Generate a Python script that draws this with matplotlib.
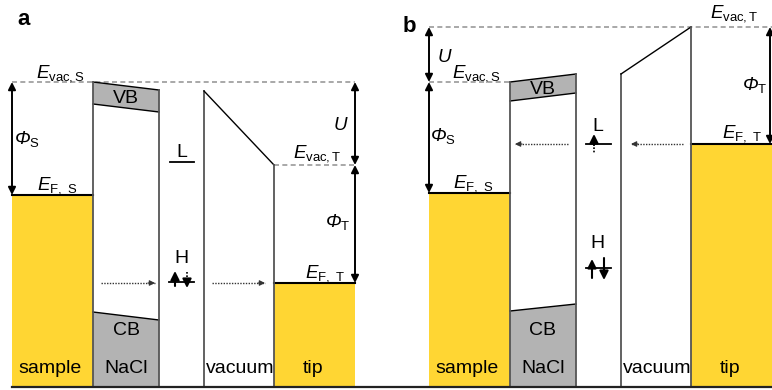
import matplotlib
matplotlib.use('Agg')
import matplotlib.pyplot as plt
from matplotlib.patches import Polygon

plt.rcParams['font.family'] = ['Liberation Sans', 'DejaVu Sans']
plt.rcParams['mathtext.fontset'] = 'custom'
plt.rcParams['mathtext.rm'] = 'Liberation Sans'
plt.rcParams['mathtext.it'] = 'Liberation Sans:italic'
plt.rcParams['mathtext.sf'] = 'Liberation Sans:italic'
plt.rcParams['mathtext.bf'] = 'Liberation Sans:bold'

# ---------------- data (energy axis points down, schematic units) -------------
regions = ['sample', 'NaCl', 'vacuum', 'tip']
panel_labels = ['a', 'b']
base_level = 387

# panel a: zero bias
a_edges = [12, 93, 159, 204, 274, 355]     # sample | NaCl | adsorbate | vacuum | tip
a_vac_s = 82
a_ef_s = 195
a_vb_top = [82, 90]
a_vb_bot = [104, 112]
a_cb_top = [312, 320]
a_barrier = [91, 165]
a_vac_t = 165
a_ef_t = 283
a_L = 162
a_H = 282

# panel b: bias applied
b_edges = [429, 510, 576, 621, 691, 772]
b_vac_s = 82
b_ef_s = 193
b_vb_top = [82, 74]
b_vb_bot = [101, 93]
b_cb_top = [311, 304]
b_barrier = [74, 27]
b_vac_t = 27
b_ef_t = 144
b_L = 144
b_H = 268

YELLOW = '#FFD633'
GRAY = '#B3B3B3'
EDGE = '#555555'
DASH = '#999999'

fig = plt.figure(figsize=(7.72, 3.90), dpi=100)
ax = fig.add_axes([0, 0, 1, 1])
ax.set_xlim(0, 772)
ax.set_ylim(390, 0)
ax.axis('off')

FS = 14
MFS = 13.5


def darrow(x, y0, y1):
    ax.annotate('', xy=(x, y1), xytext=(x, y0),
                arrowprops=dict(arrowstyle='<|-|>', color='k', lw=1.4,
                                mutation_scale=11, shrinkA=0, shrinkB=0))


def sarrow(x, y0, y1, ls='-', lw=1.5, ms=13, color='k'):
    ax.annotate('', xy=(x, y1), xytext=(x, y0),
                arrowprops=dict(arrowstyle='-|>', color=color, lw=lw, ls=ls,
                                mutation_scale=ms, shrinkA=0, shrinkB=0))


def harrow(x0, x1, y):
    ax.plot([x0, x1], [y, y], color='#333333', lw=1.0, ls=(0, (1, 1)))
    ax.annotate('', xy=(x1, y), xytext=(x1 + (1 if x1 > x0 else -1) * -7, y),
                arrowprops=dict(arrowstyle='-|>', color='#333333', lw=0.8,
                                mutation_scale=8, shrinkA=0, shrinkB=0))


def draw_panel(e, vac_s, ef_s, vb_top, vb_bot, cb_top, barrier, vac_t, ef_t):
    x0, x1, x2, x3, x4, x5 = e
    # sample metal
    ax.fill_between([x0, x1], ef_s, base_level, color=YELLOW, lw=0)
    ax.plot([x0, x1], [ef_s, ef_s], color='k', lw=1.5)
    # tip metal
    ax.fill_between([x4, x5], ef_t, base_level, color=YELLOW, lw=0)
    ax.plot([x4, x5], [ef_t, ef_t], color='k', lw=1.5)
    # NaCl valence band
    ax.add_patch(Polygon([[x1, vb_top[0]], [x2, vb_top[1]], [x2, vb_bot[1]], [x1, vb_bot[0]]],
                         closed=True, facecolor=GRAY, edgecolor='none'))
    ax.plot([x1, x2], vb_top, color='k', lw=1.0)
    ax.plot([x1, x2], vb_bot, color='k', lw=1.0)
    # NaCl conduction band
    ax.add_patch(Polygon([[x1, cb_top[0]], [x2, cb_top[1]], [x2, base_level], [x1, base_level]],
                         closed=True, facecolor=GRAY, edgecolor='none'))
    ax.plot([x1, x2], cb_top, color='k', lw=1.0)
    # NaCl walls
    ax.plot([x1, x1], [vb_top[0], base_level], color=EDGE, lw=1.3)
    ax.plot([x2, x2], [vb_top[1], base_level], color=EDGE, lw=1.3)
    # vacuum barrier
    ax.plot([x3, x3], [barrier[0], base_level], color=EDGE, lw=1.3)
    ax.plot([x3, x4], barrier, color='k', lw=1.0)
    ax.plot([x4, x4], [barrier[1], base_level], color=EDGE, lw=1.3)
    # region labels
    ty = 373
    ax.text((x0 + x1) / 2 - 2, ty, regions[0], fontsize=FS, ha='center', va='baseline')
    ax.text((x1 + x2) / 2, ty, regions[1], fontsize=FS, ha='center', va='baseline')
    ax.text((x3 + x4) / 2 + 1, ty, regions[2], fontsize=FS, ha='center', va='baseline')
    ax.text((x4 + x5) / 2 - 1, ty, regions[3], fontsize=FS, ha='center', va='baseline')
    ax.text((x1 + x2) / 2, (vb_top[0] + vb_bot[1]) / 2 + 6, 'VB', fontsize=FS, ha='center', va='baseline')
    ax.text((x1 + x2) / 2, 335, 'CB', fontsize=FS, ha='center', va='baseline')


# ---------------- panel a ----------------
e = a_edges
ax.plot([e[0], e[5]], [a_vac_s, a_vac_s], color=DASH, lw=1.2, ls=(0, (3, 2)))
ax.plot([e[4], e[5]], [a_vac_t, a_vac_t], color=DASH, lw=1.2, ls=(0, (3, 2)))
draw_panel(a_edges, a_vac_s, a_ef_s, a_vb_top, a_vb_bot, a_cb_top, a_barrier, a_vac_t, a_ef_t)
darrow(e[0], a_vac_s, a_ef_s)
darrow(e[5], a_vac_s, a_vac_t)
darrow(e[5], a_vac_t, a_ef_t)
# adsorbate levels
ax.plot([170, 194], [a_L, a_L], color='k', lw=1.3)
ax.plot([169, 194], [a_H, a_H], color='k', lw=1.3)
ax.text(182, 157, 'L', fontsize=FS, ha='center', va='baseline')
ax.text(181, 263, 'H', fontsize=FS, ha='center', va='baseline')
sarrow(175, a_H + 4, a_H - 11)
ax.plot([187, 187], [a_H - 10, a_H - 2], color='k', lw=1.2, ls=(0, (1, 1)))
sarrow(187, a_H - 3, a_H + 6)
harrow(101, 155, a_ef_t)
harrow(212, 265, a_ef_t)
ax.text(36, 77, r'$E_{\mathrm{vac,S}}$', fontsize=MFS, va='baseline')
ax.text(37, 190, r'$E_{\mathrm{F,\ S}}$', fontsize=MFS, va='baseline')
ax.text(14, 144, r'$\mathsf{\Phi}_{\mathrm{S}}$', fontsize=MFS, va='baseline')
ax.text(333, 130, r'$U$', fontsize=MFS, va='baseline')
ax.text(293, 157, r'$E_{\mathrm{vac,T}}$', fontsize=MFS, va='baseline')
ax.text(325, 227, r'$\mathsf{\Phi}_{\mathrm{T}}$', fontsize=MFS, va='baseline')
ax.text(305, 277, r'$E_{\mathrm{F,\ T}}$', fontsize=MFS, va='baseline')
ax.text(24, 25, panel_labels[0], fontsize=16, fontweight='bold', ha='center', va='baseline')

# ---------------- panel b ----------------
e = b_edges
ax.plot([e[0], e[5]], [b_vac_t, b_vac_t], color=DASH, lw=1.2, ls=(0, (3, 2)))
ax.plot([e[0], e[1]], [b_vac_s, b_vac_s], color=DASH, lw=1.2, ls=(0, (3, 2)))
draw_panel(b_edges, b_vac_s, b_ef_s, b_vb_top, b_vb_bot, b_cb_top, b_barrier, b_vac_t, b_ef_t)
darrow(e[0], b_vac_t, b_vac_s)
darrow(e[0], b_vac_s, b_ef_s)
darrow(770, b_vac_t, b_ef_t)
ax.plot([586, 611], [b_L, b_L], color='k', lw=1.3)
ax.plot([586, 611], [b_H, b_H], color='k', lw=1.3)
ax.text(598, 131, 'L', fontsize=FS, ha='center', va='baseline')
ax.text(597, 248, 'H', fontsize=FS, ha='center', va='baseline')
ax.plot([594, 594], [b_L, b_L + 9], color='k', lw=1.2, ls=(0, (1, 1)))
sarrow(594, b_L + 1, b_L - 10)
sarrow(592, b_H + 10, b_H - 9)
sarrow(604, b_H - 10, b_H + 12)
harrow(568, 515, b_L)
harrow(683, 631, b_L)
ax.text(437, 62, r'$U$', fontsize=MFS, va='baseline')
ax.text(452, 77, r'$E_{\mathrm{vac,S}}$', fontsize=MFS, va='baseline')
ax.text(430, 141, r'$\mathsf{\Phi}_{\mathrm{S}}$', fontsize=MFS, va='baseline')
ax.text(453, 188, r'$E_{\mathrm{F,\ S}}$', fontsize=MFS, va='baseline')
ax.text(710, 17, r'$E_{\mathrm{vac,T}}$', fontsize=MFS, va='baseline')
ax.text(742, 90, r'$\mathsf{\Phi}_{\mathrm{T}}$', fontsize=MFS, va='baseline')
ax.text(722, 137, r'$E_{\mathrm{F,\ T}}$', fontsize=MFS, va='baseline')
ax.text(409, 32, panel_labels[1], fontsize=16, fontweight='bold', ha='center', va='baseline')

# common baseline
ax.plot([12, 772], [base_level, base_level], color='#222222', lw=1.6)

fig.savefig('out.png', dpi=100)
